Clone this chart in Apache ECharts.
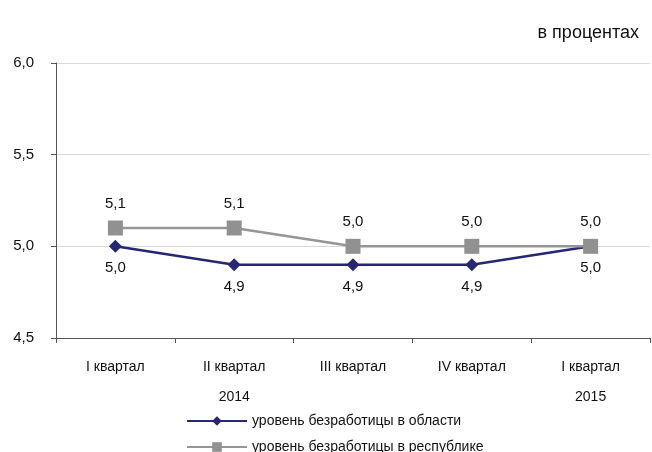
<!DOCTYPE html>
<html><head><meta charset="utf-8">
<script src="https://cdn.jsdelivr.net/npm/echarts@6/dist/echarts.min.js"></script>
<style>html,body{margin:0;padding:0;background:#fff}#c{width:652px;height:452px}</style>
</head><body><div id="c"></div>
<script>
const categories = ['I квартал', 'II квартал', 'III квартал', 'IV квартал', 'I квартал'];
const yearLabels = ['', '2014', '', '', '2015'];
const regionValues = [5.0, 4.9, 4.9, 4.9, 5.0];
const republicValues = [5.1, 5.1, 5.0, 5.0, 5.0];
const seriesNames = ['уровень безработицы в области', 'уровень безработицы в республике'];

const fmt = v => Number(v).toFixed(1).replace('.', ',');
const font = 'Liberation Sans, Arial, sans-serif';
const chart = echarts.init(document.getElementById('c'), null, {renderer: 'canvas'});
chart.setOption({
  animation: false,
  textStyle: {fontFamily: font},
  title: {text: 'в процентах', right: 8, top: 19, textStyle: {fontSize: 18, fontWeight: 'normal', color: '#111', fontFamily: font}},
  grid: {left: 56, right: 2, top: 63, bottom: 114},
  legend: {
    orient: 'vertical', left: 181, top: 409, height: 60, itemGap: 12, itemWidth: 60, itemHeight: 12,
    textStyle: {fontSize: 14, color: '#111', fontFamily: font},
    data: seriesNames
  },
  xAxis: [{
    type: 'category', data: categories, boundaryGap: true,
    axisLine: {lineStyle: {color: '#555'}},
    axisTick: {show: true, alignWithLabel: false, length: 5, lineStyle: {color: '#555'}},
    axisLabel: {fontSize: 14, color: '#111', margin: 22, fontFamily: font}
  }, {
    type: 'category', data: yearLabels, position: 'bottom', offset: 0, boundaryGap: true,
    axisLine: {show: false}, axisTick: {show: false},
    axisLabel: {fontSize: 14, color: '#111', margin: 52, interval: 0, fontFamily: font}
  }],
  yAxis: {
    type: 'value', min: 4.5, max: 6, interval: 0.5,
    axisLine: {show: true, lineStyle: {color: '#555'}},
    axisTick: {show: true, length: 5, lineStyle: {color: '#555'}},
    splitLine: {lineStyle: {color: '#d9d9d9'}},
    axisLabel: {formatter: fmt, fontSize: 15, color: '#111', margin: 22, fontFamily: font}
  },
  series: [{
    name: seriesNames[0], type: 'line', data: regionValues, z: 2,
    symbol: 'diamond', symbolSize: 13,
    itemStyle: {color: '#262673'}, lineStyle: {color: '#262673', width: 2.5},
    label: {show: true, position: 'bottom', distance: 8, formatter: p => fmt(p.value), fontSize: 15, color: '#111', fontFamily: font}
  }, {
    name: seriesNames[1], type: 'line', data: republicValues, z: 3,
    symbol: 'rect', symbolSize: 15,
    itemStyle: {color: '#919191'}, lineStyle: {color: '#969696', width: 2.5},
    label: {show: true, position: 'top', distance: 9, formatter: p => fmt(p.value), fontSize: 15, color: '#111', fontFamily: font}
  }]
});
</script></body></html>
